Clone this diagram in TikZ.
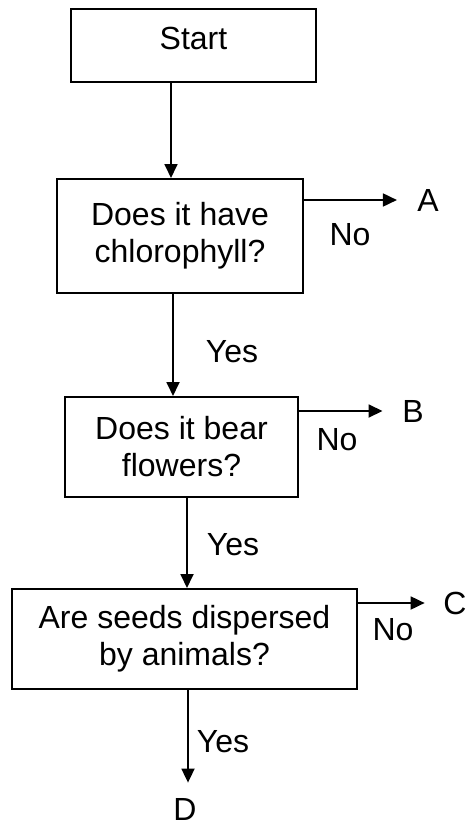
\documentclass[tikz,border=0pt]{standalone}
\usepackage{fontspec}
\setmainfont{Liberation Sans}
\usetikzlibrary{arrows.meta}

\begin{document}
\begin{tikzpicture}[x=0.5pt,y=-0.5pt,
  every node/.style={font=\fontsize{16}{18.5}\selectfont,inner sep=0pt},
  box/.style={draw,line width=1pt,align=center},
  arr/.style={-{Triangle[length=7pt,width=6.5pt]},line width=0.9pt}]
  \useasboundingbox (0,0) rectangle (476,824);
  % boxes
  \node[box,minimum width=122.5pt,minimum height=36.5pt,text depth=7.5pt] (start) at (193.5,45.5) {Start};
  \node[box,minimum width=123pt,minimum height=57pt] (q1) at (180,236) {Does it have\\chlorophyll?};
  \node[box,minimum width=116.5pt,minimum height=50pt] (q2) at (181.5,447) {Does it bear\\flowers?};
  \node[box,minimum width=172.5pt,minimum height=50pt] (q3) at (184.5,639) {Are seeds dispersed\\by animals?};
  % outcomes
  \node (A) at (428,200) {A};
  \node (B) at (413,411) {B};
  \node (C) at (455,603) {C};
  \node (D) at (185,809) {D};
  % yes / no labels
  \node (no1) at (350,235) {No};
  \node (no2) at (337,440) {No};
  \node (no3) at (393,630) {No};
  \node (yes1) at (232,352) {Yes};
  \node (yes2) at (233,545) {Yes};
  \node (yes3) at (223,742) {Yes};
  % down arrows
  \draw[arr] (start.south -| 171,0) -- (q1.north -| 171,0);
  \draw[arr] (q1.south -| 173,0) -- (q2.north -| 173,0);
  \draw[arr] (q2.south -| 187,0) -- (q3.north -| 187,0);
  \draw[arr,shorten >=7.5pt] (q3.south -| 188,0) -- (D.north -| 188,0);
  % side arrows
  \draw[arr,shorten >=10pt] (q1.east |- A) -- (A.west);
  \draw[arr,shorten >=9.7pt] (q2.east |- B) -- (B.west);
  \draw[arr,shorten >=9.2pt] (q3.east |- C) -- (C.west);
\end{tikzpicture}
\end{document}
